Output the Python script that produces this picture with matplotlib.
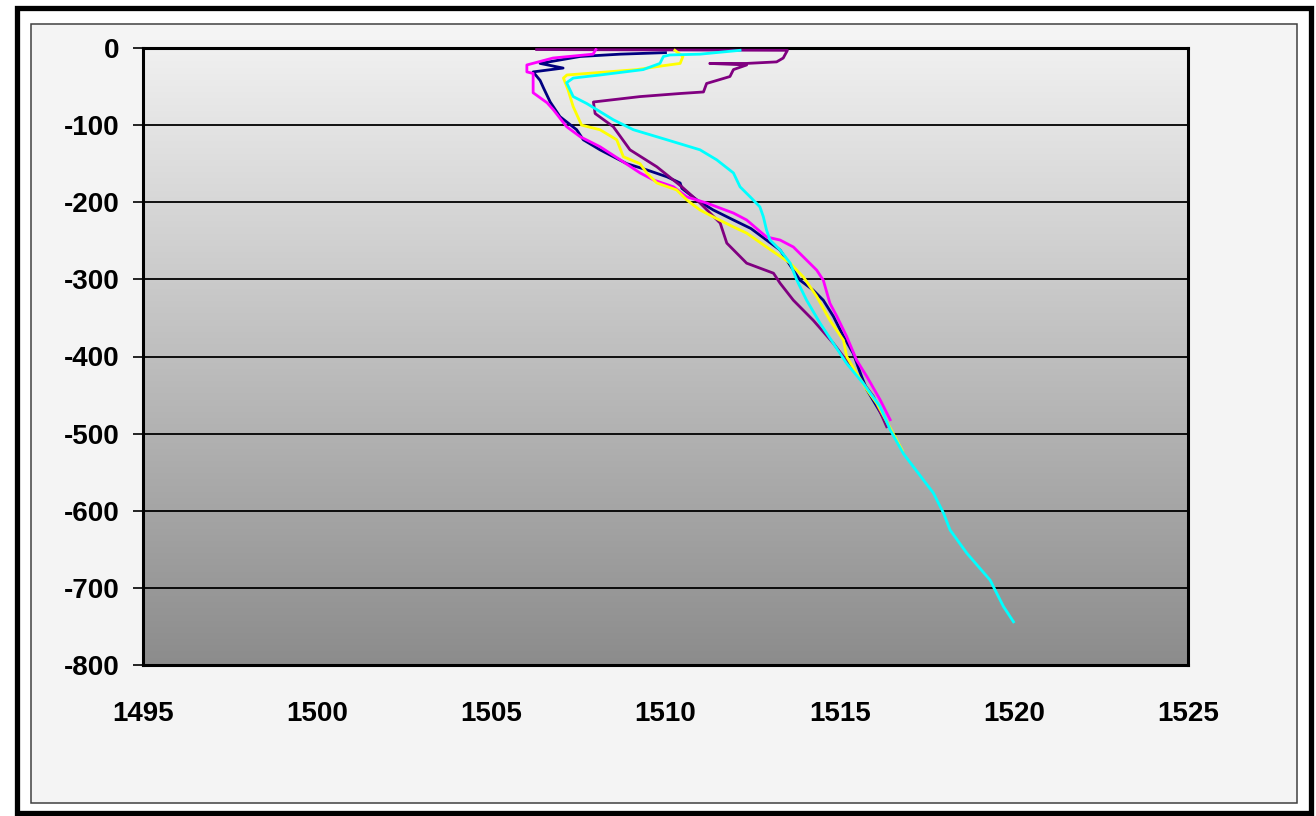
import numpy as np
import matplotlib
matplotlib.use("Agg")
import matplotlib.pyplot as plt
from matplotlib.patches import Rectangle
from matplotlib.colors import LinearSegmentedColormap

# sound speed (m/s) vs depth (m) for five casts
navy_speed = [1510.0, 1508.7, 1507.55, 1506.40, 1507.06, 1506.20, 1506.40, 1506.50, 1506.69,
              1506.97, 1507.45, 1507.64, 1508.12, 1508.89, 1509.46, 1510.04, 1510.42, 1510.47,
              1510.90, 1511.37, 1511.95, 1512.45, 1512.90, 1513.29, 1513.67, 1513.86, 1514.24,
              1514.53, 1514.82, 1515.11, 1515.39, 1515.63, 1515.78, 1516.2]
navy_depth = [-6, -8, -11, -20, -26, -31, -42, -52, -70, -89, -106, -119, -132, -150, -158, -167,
              -175, -182, -197, -210, -223, -234, -249, -262, -288, -301, -314, -327, -348, -374,
              -396, -426, -443, -475]

purple_speed = [1506.3, 1513.5, 1513.38, 1513.19, 1512.33, 1511.27, 1512.33, 1511.95, 1511.85,
                1511.18, 1511.09, 1510.42, 1509.27, 1507.93, 1507.98, 1508.50, 1508.98, 1509.75,
                1510.47, 1510.99, 1511.57, 1511.76, 1512.33, 1513.10, 1513.29, 1513.67, 1514.24,
                1514.82, 1515.39, 1515.97, 1516.35]
purple_depth = [-2, -3, -13, -18, -20, -20, -22, -28, -37, -46, -57, -59, -63, -70, -85, -102,
                -132, -154, -180, -201, -227, -253, -279, -292, -305, -327, -353, -383, -417,
                -452, -491]

magenta_speed = [1508.0, 1507.92, 1506.77, 1506.02, 1506.02, 1506.20, 1506.20, 1506.60, 1506.78,
                 1507.16, 1507.55, 1508.12, 1508.70, 1509.27, 1509.65, 1510.23, 1510.61, 1511.18,
                 1511.95, 1512.33, 1512.90, 1513.29, 1513.67, 1514.05, 1514.34, 1514.53, 1514.72,
                 1514.92, 1515.20, 1515.49, 1515.78, 1516.16, 1516.45]
magenta_depth = [-2, -8, -13, -22, -31, -33, -58, -71, -80, -102, -115, -128, -145, -162, -171,
                 -180, -193, -201, -214, -223, -245, -249, -258, -275, -288, -301, -331, -348,
                 -374, -405, -426, -456, -482]

yellow_speed = [1510.27, 1510.5, 1510.42, 1509.93, 1509.18, 1507.17, 1507.07, 1507.20, 1507.35,
                1507.59, 1508.12, 1508.60, 1508.79, 1509.27, 1509.46, 1509.75, 1510.32, 1510.61,
                1510.99, 1511.37, 1511.95, 1512.33, 1512.90, 1513.58, 1513.96, 1514.34, 1514.72,
                1515.11, 1515.20, 1515.49, 1515.78, 1516.07, 1516.8]
yellow_depth = [-3, -11, -20, -23, -28, -35, -39, -54, -76, -100, -106, -119, -141, -150, -162,
                -175, -184, -197, -210, -219, -232, -240, -258, -279, -297, -322, -353, -379,
                -400, -422, -443, -461, -522]

cyan_speed = [1512.14, 1510.99, 1510.13, 1509.94, 1509.84, 1509.36, 1508.12, 1507.35, 1507.16,
              1507.35, 1507.74, 1508.50, 1509.08, 1510.04, 1510.99, 1511.47, 1511.95, 1512.14,
              1512.43, 1512.71, 1512.81, 1512.90, 1513.00, 1513.29, 1513.58, 1513.77, 1514.05,
              1514.44, 1514.82, 1515.20, 1515.68, 1516.16, 1516.45, 1516.83, 1517.69, 1517.98,
              1518.17, 1518.65, 1519.32, 1519.51, 1519.70, 1519.99]
cyan_depth = [-3, -8, -9, -11, -20, -28, -35, -39, -45, -63, -72, -93, -106, -119, -132, -145,
              -162, -180, -193, -206, -219, -236, -249, -262, -279, -301, -327, -357, -383, -409,
              -435, -465, -495, -526, -577, -603, -625, -655, -690, -707, -724, -744]

x_ticks = [1495, 1500, 1505, 1510, 1515, 1520, 1525]
y_ticks = [0, -100, -200, -300, -400, -500, -600, -700, -800]

plt.rcParams['font.family'] = ['Liberation Sans', 'DejaVu Sans']

fig = plt.figure(figsize=(13.16, 8.16), dpi=100)
fig.patch.set_facecolor('white')

W, H = 1316.0, 816.0
# inner panel (light grey) and the two frames round the chart
inner = Rectangle((30.5 / W, 1 - 803 / H), (1297 - 30.5) / W, (803 - 24) / H,
                  transform=fig.transFigure, facecolor='#f4f4f4',
                  edgecolor='#404040', linewidth=1.1, zorder=-2)
outer = Rectangle((16.5 / W, 1 - 813 / H), (1311 - 16.5) / W, (813 - 7.5) / H,
                  transform=fig.transFigure, facecolor='none',
                  edgecolor='black', linewidth=3.8, zorder=-1)
fig.add_artist(inner)
fig.add_artist(outer)

ax = fig.add_axes([143 / W, 1 - 665 / H, (1188 - 143) / W, (665 - 48) / H])
ax.set_zorder(5)

# grey gradient background of the plot area
cmap = LinearSegmentedColormap.from_list('bg', ['#f0f0f0', '#8c8c8c'])
grad = np.linspace(0, 1, 256).reshape(-1, 1)
ax.imshow(grad, extent=[0, 1, 0, 1], transform=ax.transAxes, aspect='auto',
          cmap=cmap, zorder=0, interpolation='bicubic')

for yv in y_ticks[1:-1]:
    ax.axhline(yv, color='black', linewidth=1.3, zorder=1)

lw = 2.0
ax.plot(navy_speed, navy_depth, color='#000080', linewidth=lw, zorder=3)
ax.plot(purple_speed, purple_depth, color='#800080', linewidth=lw, zorder=3)
ax.plot(magenta_speed, magenta_depth, color='#ff00ff', linewidth=lw, zorder=3)
ax.plot(yellow_speed, yellow_depth, color='#ffff00', linewidth=lw, zorder=3)
ax.plot(cyan_speed, cyan_depth, color='#00ffff', linewidth=lw, zorder=4)

ax.set_xlim(1495, 1525)
ax.set_ylim(-800, 0)
ax.set_xticks(x_ticks)
ax.set_yticks(y_ticks)
ax.set_xticklabels([str(v) for v in x_ticks], fontsize=20, fontweight='bold')
ax.set_yticklabels([str(v) for v in y_ticks], fontsize=20, fontweight='bold')
ax.tick_params(axis='x', length=0, pad=26)
ax.tick_params(axis='y', length=7, width=1.2, pad=10, direction='out')

for s in ax.spines.values():
    s.set_linewidth(2.2)
    s.set_color('black')

fig.savefig('out.png', dpi=100)
